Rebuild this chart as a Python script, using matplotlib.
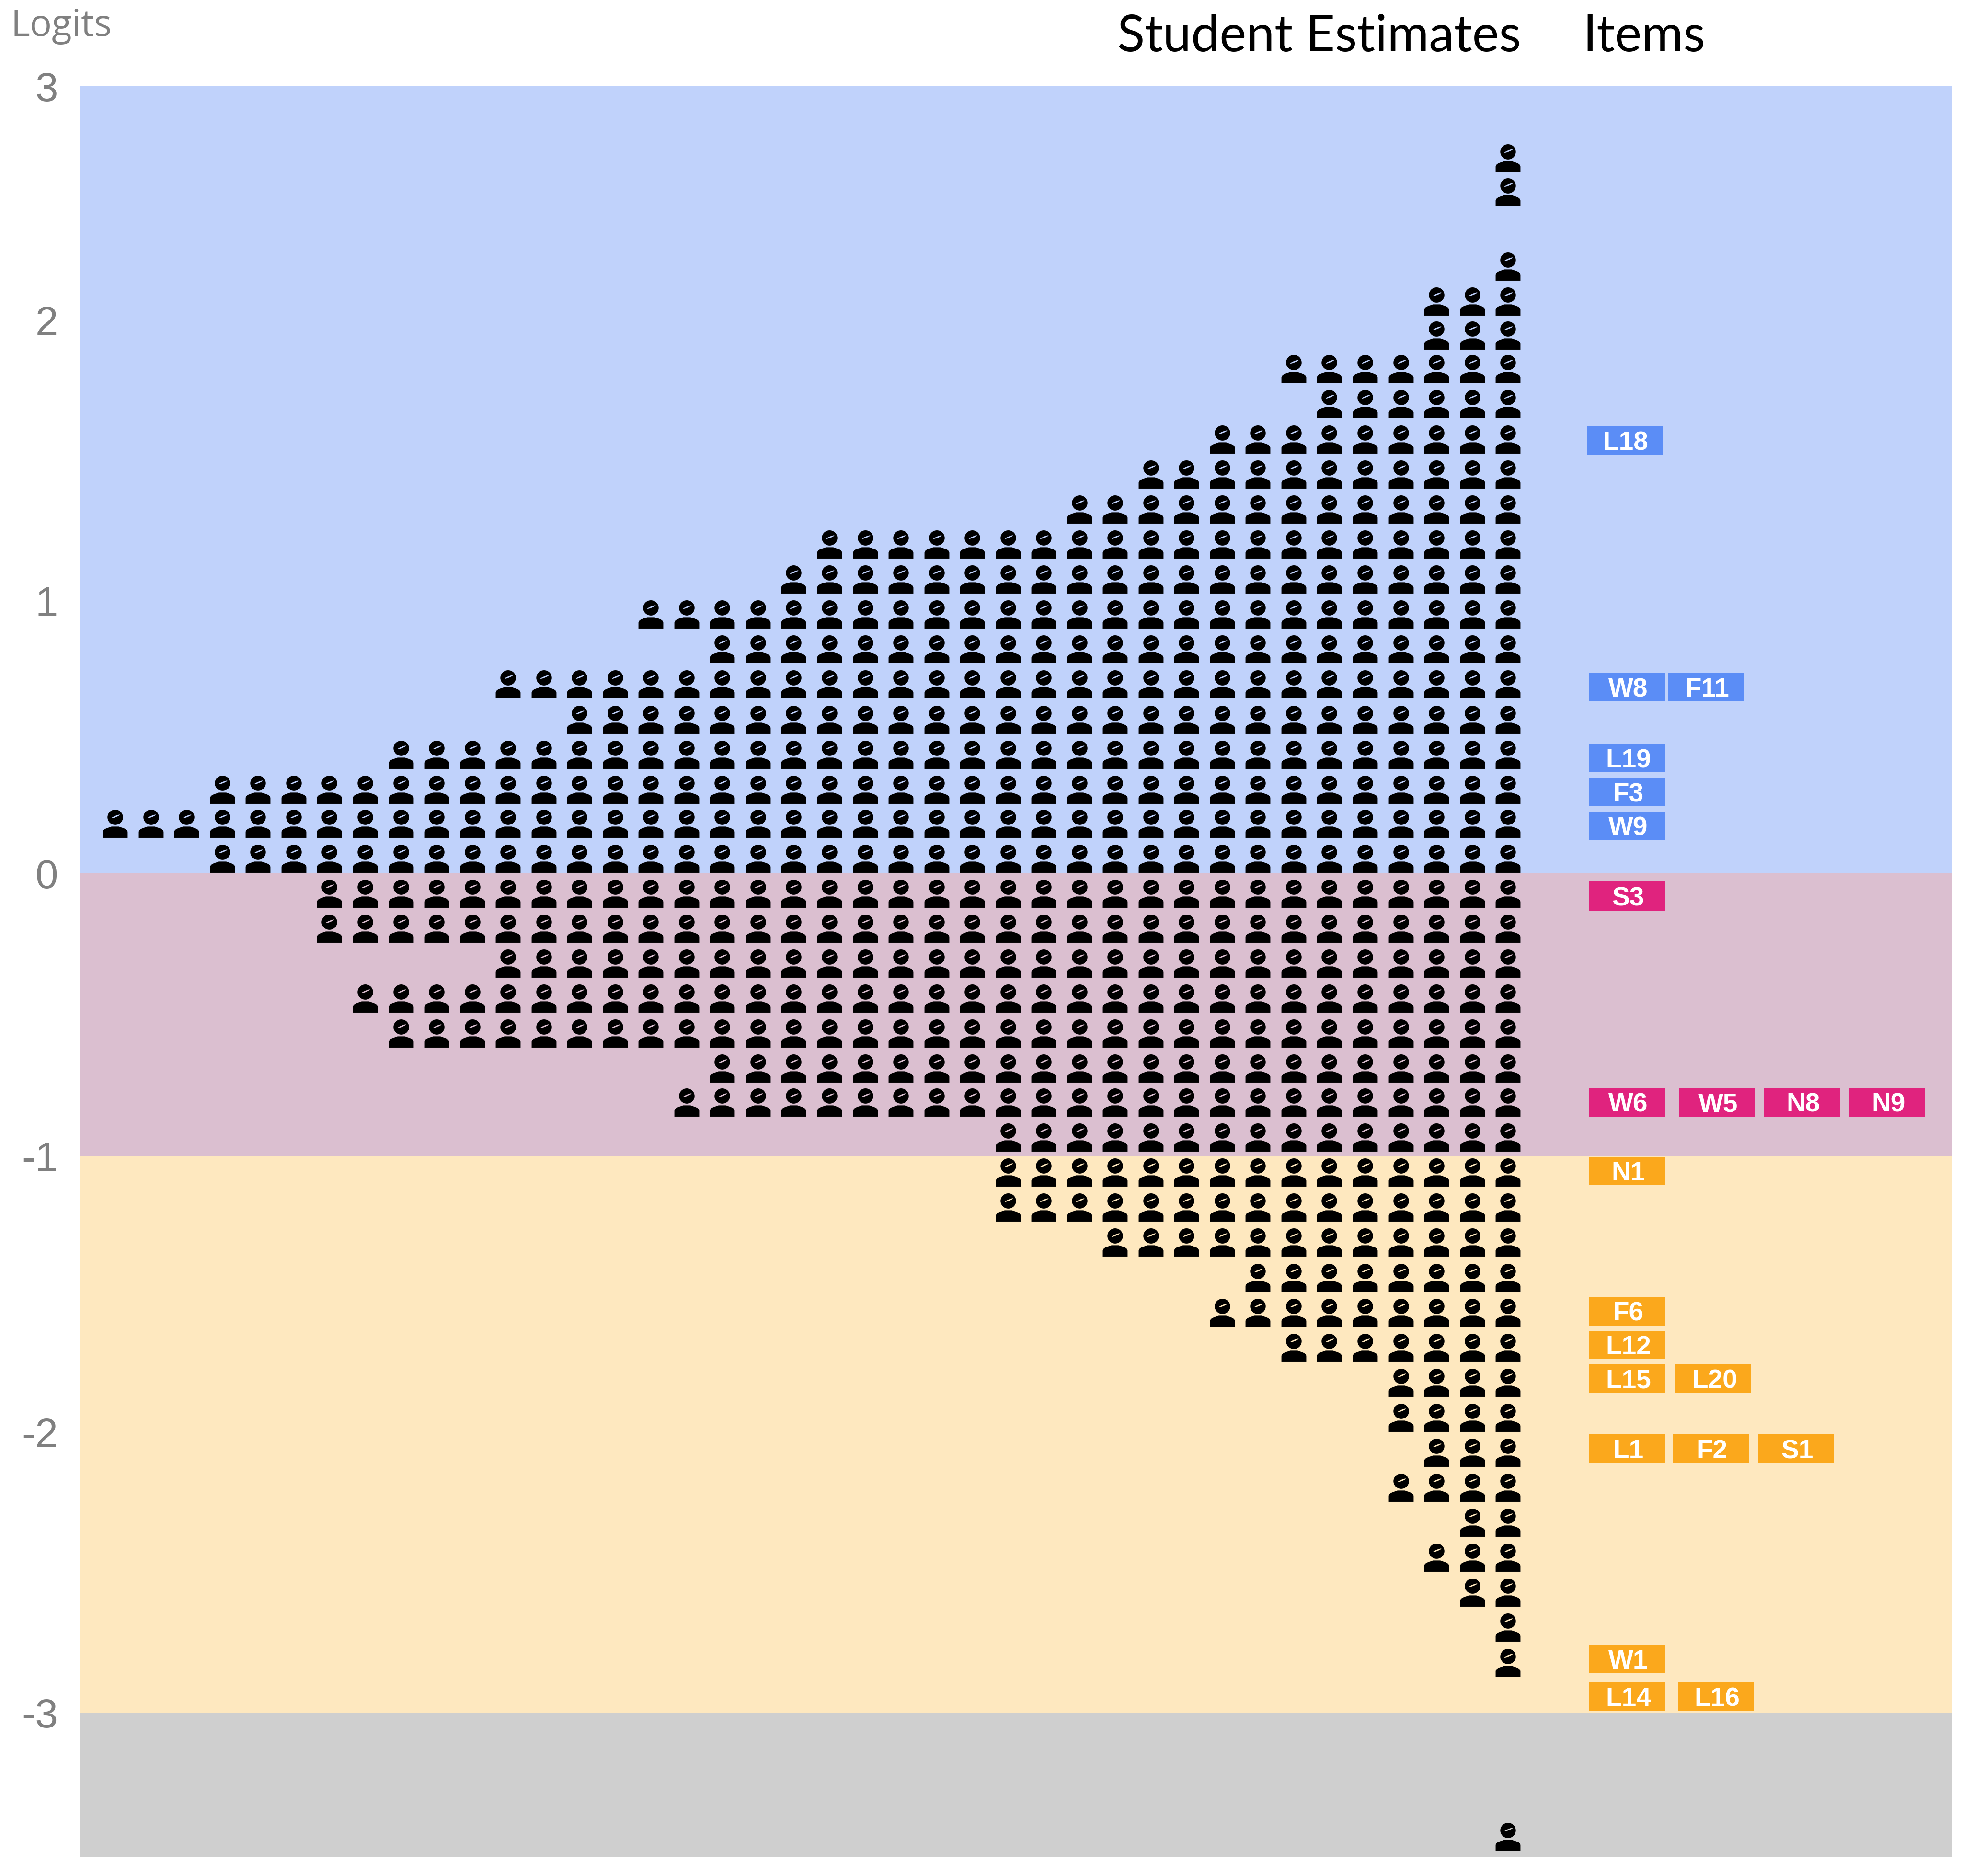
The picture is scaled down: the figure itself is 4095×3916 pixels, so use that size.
import numpy as np
import matplotlib
matplotlib.use("Agg")
import matplotlib.pyplot as plt
from matplotlib.path import Path
from matplotlib.transforms import Affine2D

# ---------- data ----------
row_logits = [2.694, 2.548, 2.231, 2.081, 1.946, 1.826, 1.701, 1.576, 1.451, 1.326, 1.201,
              1.076, 0.950, 0.821, 0.693, 0.564, 0.436, 0.307, 0.183, 0.055, -0.071, -0.195,
              -0.319, -0.442, -0.566, -0.690, -0.810, -0.934, -1.059, -1.186, -1.312, -1.439,
              -1.566, -1.692, -1.819, -1.946, -2.071, -2.196, -2.321, -2.446, -2.571, -2.696,
              -2.821, -3.430]
row_counts = [1, 1, 1, 3, 3, 7, 6, 9, 11, 13, 20,
              21, 25, 23, 29, 27, 32, 37, 40, 37, 34, 34,
              29, 33, 32, 23, 24, 15, 15, 15, 12, 8,
              9, 7, 4, 4, 3, 4, 2, 3, 2, 1,
              1, 1]

item_names = ["L18", "W8", "F11", "L19", "F3", "W9", "S3", "W6", "W5", "N8", "N9", "N1",
              "F6", "L12", "L15", "L20", "L1", "F2", "S1", "W1", "L14", "L16"]
item_logits = [1.571, 0.683, 0.683, 0.422, 0.298, 0.174, -0.080, -0.810, -0.810, -0.810, -0.810,
               -1.054, -1.561, -1.683, -1.805, -1.805, -2.058, -2.058, -2.058, -2.808, -2.942, -2.942]

band_edges = [3, 0, -1, -3, -3.5]
tick_values = [3, 2, 1, 0, -1, -2, -3]

# ---------- layout (pixels of a 1568-wide view) ----------
PX = 4095 / 1568
W, H = 4095, 3916
item_left = [1268, 1270, 1333, 1270, 1270, 1270, 1270, 1270, 1342, 1410, 1478, 1270,
             1270, 1270, 1270, 1339, 1270, 1337, 1405, 1270, 1270, 1341]
item_width = 60.5
anchor_logit = [-3.5, -3, -2, -1, 0, 1, 2, 3]
anchor_view = [1484, 1369, 1145, 924, 698, 480, 256, 69]
col_first, col_pitch = 92, 28.54
ax_left, ax_right = 64, 1560

band_colors = ["#C0D2FB", "#DBBFD0", "#FEE8BF", "#CFCFCF"]
item_colors = {"up": "#5B8DF6", "mid": "#E0237E", "low": "#FBA81C"}
GREY = "#808080"


def forward(v):
    return np.interp(v, anchor_logit, -np.array(anchor_view, float))


def inverse(v):
    return np.interp(v, -np.array(anchor_view[::-1], float), anchor_logit[::-1])


def to_col(view_x):
    return (np.asarray(view_x, float) - col_first) / col_pitch


def ellipse_hole(rx, ry, angle, cx, cy):
    t = np.linspace(2 * np.pi, 0, 24, endpoint=False)
    xy = Affine2D().scale(rx, ry).rotate_deg(angle).translate(cx, cy).transform(
        np.column_stack([np.cos(t), np.sin(t)]))
    return Path(np.vstack([xy, xy[0]]), closed=True)


def person_marker():
    shoulders = Path(
        [(-0.88, -1), (0.88, -1), (0.88, -0.60), (0.88, -0.34), (0.50, -0.30), (0.26, -0.20),
         (-0.26, -0.20), (-0.50, -0.30), (-0.88, -0.34), (-0.88, -0.60), (-0.88, -1)],
        [Path.MOVETO, Path.LINETO, Path.LINETO, Path.CURVE4, Path.CURVE4, Path.CURVE4,
         Path.LINETO, Path.CURVE4, Path.CURVE4, Path.CURVE4, Path.CLOSEPOLY])
    head = Path.unit_circle().transformed(Affine2D().scale(0.55, 0.54).translate(0, 0.46))
    fringe = ellipse_hole(0.32, 0.05, 22, 0.04, 0.52)
    return Path.make_compound_path(shoulders, head, fringe)


plt.rcParams["font.family"] = ["Lato", "DejaVu Sans"]
dpi = 300
fig = plt.figure(figsize=(W / dpi, H / dpi), dpi=dpi, facecolor="white")
top_px = anchor_view[-1] * PX
bot_px = anchor_view[0] * PX
ax = fig.add_axes([ax_left * PX / W, 1 - bot_px / H,
                   (ax_right - ax_left) * PX / W, (bot_px - top_px) / H])
ax.set_yscale("function", functions=(forward, inverse))
ax.set_ylim(band_edges[-1], band_edges[0])
ax.set_xlim(to_col(ax_left), to_col(ax_right))

for hi, lo, c in zip(band_edges[:-1], band_edges[1:], band_colors):
    ax.axhspan(lo, hi, color=c, lw=0, zorder=0)

# students: every row is right-aligned against the last column
last_col = max(row_counts) - 1
xs, ys = [], []
for logit, n in zip(row_logits, row_counts):
    for k in range(n):
        xs.append(last_col - k)
        ys.append(logit)
ax.scatter(xs, ys, s=200, marker=person_marker(), c="black", linewidths=0, zorder=3)

# items
for name, logit, left in zip(item_names, item_logits, item_left):
    color = item_colors["up"] if logit > 0 else item_colors["mid"] if logit > -1 else item_colors["low"]
    ax.barh(logit, item_width / col_pitch, left=to_col(left), height=0.103, color=color, lw=0, zorder=2)
    ax.text(to_col(left + item_width / 2 + 1), logit, name, ha="center", va="center_baseline",
            color="white", fontsize=13.2, fontweight="bold", family="Liberation Sans", zorder=4)

ax.set_xticks([])
ax.set_yticks(tick_values)
ax.set_yticklabels([str(v) for v in tick_values], color=GREY, fontsize=20.5, family="Liberation Sans")
ax.tick_params(axis="y", length=0, pad=11)
ax.minorticks_off()
for s in ax.spines.values():
    s.set_visible(False)

fig.text(23 / W, 1 - 75 / H, "Logits", color=GREY, fontsize=18.4, ha="left", va="baseline",
         family="Open Sans")
fig.text(893 * PX / W, 1 - 41 * PX / H, "Student Estimates", color="black", fontsize=25.4, ha="left", va="baseline")
fig.text(1265 * PX / W, 1 - 41 * PX / H, "Items", color="black", fontsize=25.4, ha="left", va="baseline")

fig.savefig("out.png", dpi=dpi)
